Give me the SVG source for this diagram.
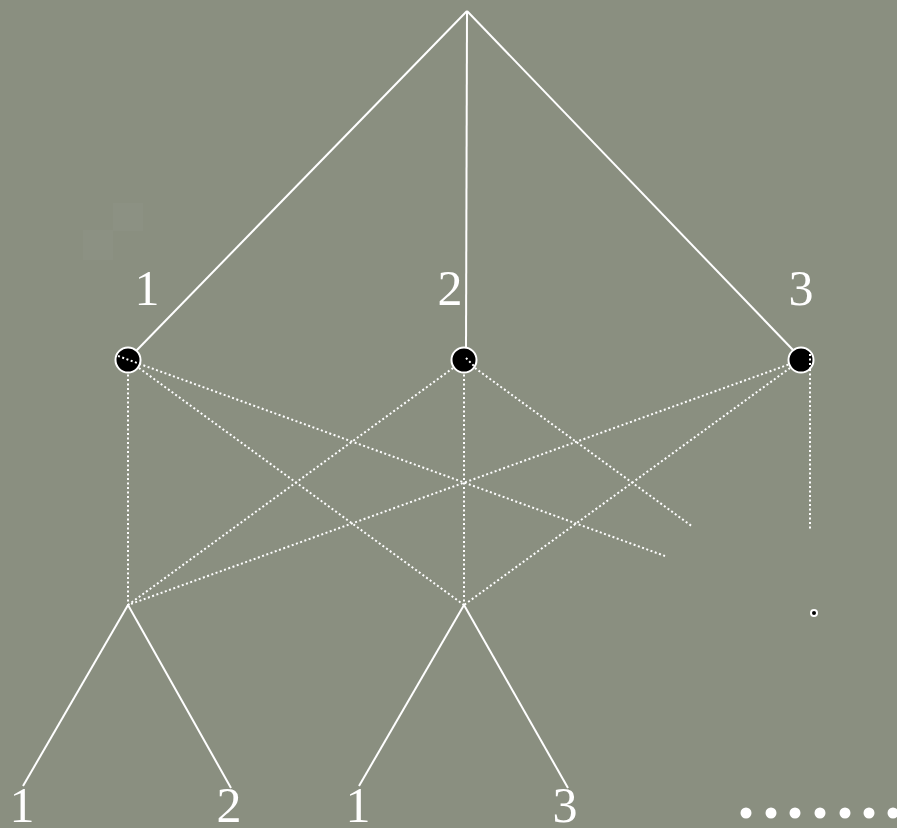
<svg xmlns="http://www.w3.org/2000/svg" width="897" height="828" viewBox="0 0 897 828">
<style>
.solid{stroke:#fff;stroke-width:2;fill:none}
.dot{stroke:#fff;stroke-width:2;stroke-dasharray:2 2.5;fill:none}
.lbl{font-family:"Liberation Serif","Times New Roman",serif;font-size:50px;fill:#fff;text-anchor:middle}
.node{fill:#000;stroke:#fff;stroke-width:2}
.more{fill:#fff}
</style>
<rect width="897" height="828" fill="#8a8f80"/>
<rect x="113" y="203" width="30" height="28" fill="#fff" opacity="0.025"/>
<rect x="83" y="230" width="30" height="30" fill="#fff" opacity="0.025"/>
<g id="connectors">
<line class="solid" x1="467" y1="11" x2="136" y2="351"/>
<line class="solid" x1="467" y1="11" x2="466" y2="348"/>
<line class="solid" x1="467" y1="11" x2="794" y2="351"/>
<line class="dot" x1="128" y1="370" x2="128" y2="605"/>
<line class="dot" x1="128" y1="360" x2="464" y2="605"/>
<line class="dot" x1="118" y1="356" x2="665" y2="556"/>
<line class="dot" x1="464" y1="360" x2="128" y2="605"/>
<line class="dot" x1="464" y1="370" x2="464" y2="605"/>
<line class="dot" x1="464" y1="360" x2="693" y2="527"/>
<line class="dot" x1="801" y1="360" x2="128" y2="605"/>
<line class="dot" x1="801" y1="360" x2="464" y2="605"/>
<line class="dot" x1="810" y1="360" x2="810" y2="530"/>
<line class="solid" x1="128" y1="605" x2="23" y2="786"/>
<line class="solid" x1="128" y1="605" x2="231" y2="788"/>
<line class="solid" x1="464" y1="605" x2="359" y2="786"/>
<line class="solid" x1="464" y1="605" x2="568" y2="788"/>
</g>
<g id="n1"><circle class="node" cx="128" cy="360" r="12.5"/><line class="dot" x1="118" y1="356" x2="140" y2="364"/><text class="lbl" x="147" y="305">1</text></g>
<g id="n2"><circle class="node" cx="464" cy="360" r="12.5"/><line class="dot" x1="466" y1="358" x2="474" y2="366"/><text class="lbl" x="450" y="305">2</text></g>
<g id="n3"><circle class="node" cx="801" cy="360" r="12.5"/><line class="dot" x1="810" y1="354" x2="810" y2="372"/><text class="lbl" x="801" y="305">3</text></g>
<g id="n4"><circle class="node" cx="814" cy="613" r="3"/></g>
<g id="leaves">
<text class="lbl" x="22" y="822">1</text>
<text class="lbl" x="229" y="822">2</text>
<text class="lbl" x="358" y="822">1</text>
<text class="lbl" x="565" y="822">3</text>
</g>
<g id="more">
<circle class="more" cx="746" cy="813" r="5.5"/>
<circle class="more" cx="771" cy="813" r="5.5"/>
<circle class="more" cx="795" cy="813" r="5.5"/>
<circle class="more" cx="820" cy="813" r="5.5"/>
<circle class="more" cx="845" cy="813" r="5.5"/>
<circle class="more" cx="869" cy="813" r="5.5"/>
<circle class="more" cx="893" cy="813" r="5.5"/>
</g>
</svg>
